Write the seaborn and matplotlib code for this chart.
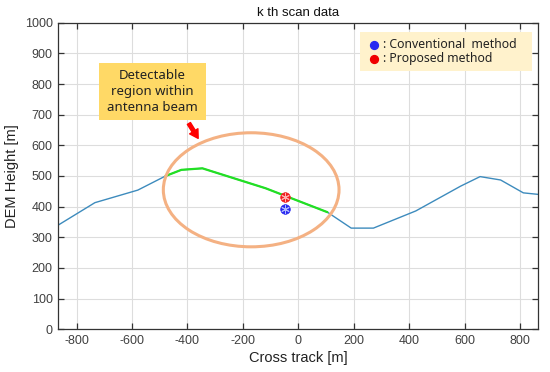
import matplotlib
matplotlib.use("Agg")
import matplotlib.pyplot as plt
import seaborn as sns
import pandas as pd
from matplotlib.patches import Ellipse, Rectangle, FancyArrowPatch

# ---- data ----
dem_x = [-866, -734, -579, -479, -422, -346, -118, 105, 191, 271, 424, 586, 656, 730, 812, 866]
dem_y = [340, 413, 454, 500, 520, 525, 460, 382, 330, 330, 386, 467, 498, 487, 445, 440]
beam_start, beam_end = 3, 7  # indices of DEM points inside the antenna beam
conv_x, conv_y = [-49], [391]
prop_x, prop_y = [-49], [432]
x_ticks = [-800, -600, -400, -200, 0, 200, 400, 600, 800]
y_ticks = [0, 100, 200, 300, 400, 500, 600, 700, 800, 900, 1000]
legend_labels = [": Conventional  method", ": Proposed method"]
note_text = "Detectable\nregion within\nantenna beam"
title = "k th scan data"

sns.set_theme(style="whitegrid")
plt.rcParams['font.family'] = ['Liberation Sans', 'DejaVu Sans']
plt.rcParams['axes.unicode_minus'] = False

fig = plt.figure(figsize=(5.5, 3.72), dpi=100)
ax = fig.add_axes([0.106, 0.1148, 0.8727, 0.8242])
ax.set_facecolor("white")

df = pd.DataFrame({"x": dem_x, "y": dem_y})
sns.lineplot(data=df, x="x", y="y", ax=ax, color="#3d8bbd", linewidth=1.0,
             sort=False, estimator=None)
sns.lineplot(data=df.iloc[beam_start:beam_end + 1], x="x", y="y", ax=ax,
             color="#22e022", linewidth=1.6, sort=False, estimator=None, zorder=3)

# markers: filled circle with asterisk
for xs, ys, c, c2 in [(conv_x, conv_y, "#2a2af0", "#b0b8ff"), (prop_x, prop_y, "#f02020", "#ffb0b0")]:
    sns.scatterplot(x=xs, y=ys, ax=ax, color=c, s=48, edgecolor=c, linewidth=0.5, zorder=5)
    ax.plot(xs, ys, linestyle="none", marker=(6, 2, 0), markersize=6,
            markeredgecolor=c2, markeredgewidth=0.7, zorder=6)

# ellipse for beam
ax.add_patch(Ellipse((-170, 455), 634, 372, fill=False, edgecolor="#f4b183",
                     linewidth=2.2, zorder=4))

# annotation box
ax.add_patch(Rectangle((-719, 683), 385, 185, facecolor="#ffd966", edgecolor="none", zorder=6))
ax.text(-526, 776, note_text, ha="center", va="center", fontsize=9.5,
        family=["Noto Sans", "DejaVu Sans"], color="#222222", linespacing=1.3, zorder=7)
ax.add_patch(FancyArrowPatch((-400, 679), (-356, 615),
                             arrowstyle="simple,head_width=7,head_length=6,tail_width=2.6",
                             color="#ff0000", zorder=7, mutation_scale=1))

# legend box
ax.add_patch(Rectangle((222, 843), 622, 127, facecolor="#fff2cc", edgecolor="none", zorder=6))
ax.scatter([274], [928], s=32, color="#2a2af0", zorder=7)
ax.scatter([274], [882], s=32, color="#f00000", zorder=7)
ax.text(307, 928, legend_labels[0], ha="left", va="center", fontsize=8.8,
        family=["Noto Sans", "DejaVu Sans"], color="#222222", zorder=7)
ax.text(307, 882, legend_labels[1], ha="left", va="center", fontsize=8.8,
        family=["Noto Sans", "DejaVu Sans"], color="#222222", zorder=7)

ax.set_xlim(-866, 866)
ax.set_ylim(0, 1000)
ax.set_xticks(x_ticks)
ax.set_yticks(y_ticks)
ax.grid(True, color="#dddddd", linewidth=0.8)
for s in ax.spines.values():
    s.set_color("#333333")
    s.set_linewidth(0.9)
    s.set_visible(True)
ax.tick_params(direction="in", length=4, width=0.9, color="#333333",
               top=True, right=True, bottom=True, left=True,
               labelsize=9, labelcolor="#404040", pad=4)
ax.set_xlabel("Cross track [m]", fontsize=10.5, color="#222222", labelpad=3)
ax.set_ylabel("DEM Height [m]", fontsize=10.5, color="#222222", labelpad=4)
ax.set_title(title, fontsize=9.5, color="#111111", pad=5)

fig.savefig("out.png", dpi=100)
